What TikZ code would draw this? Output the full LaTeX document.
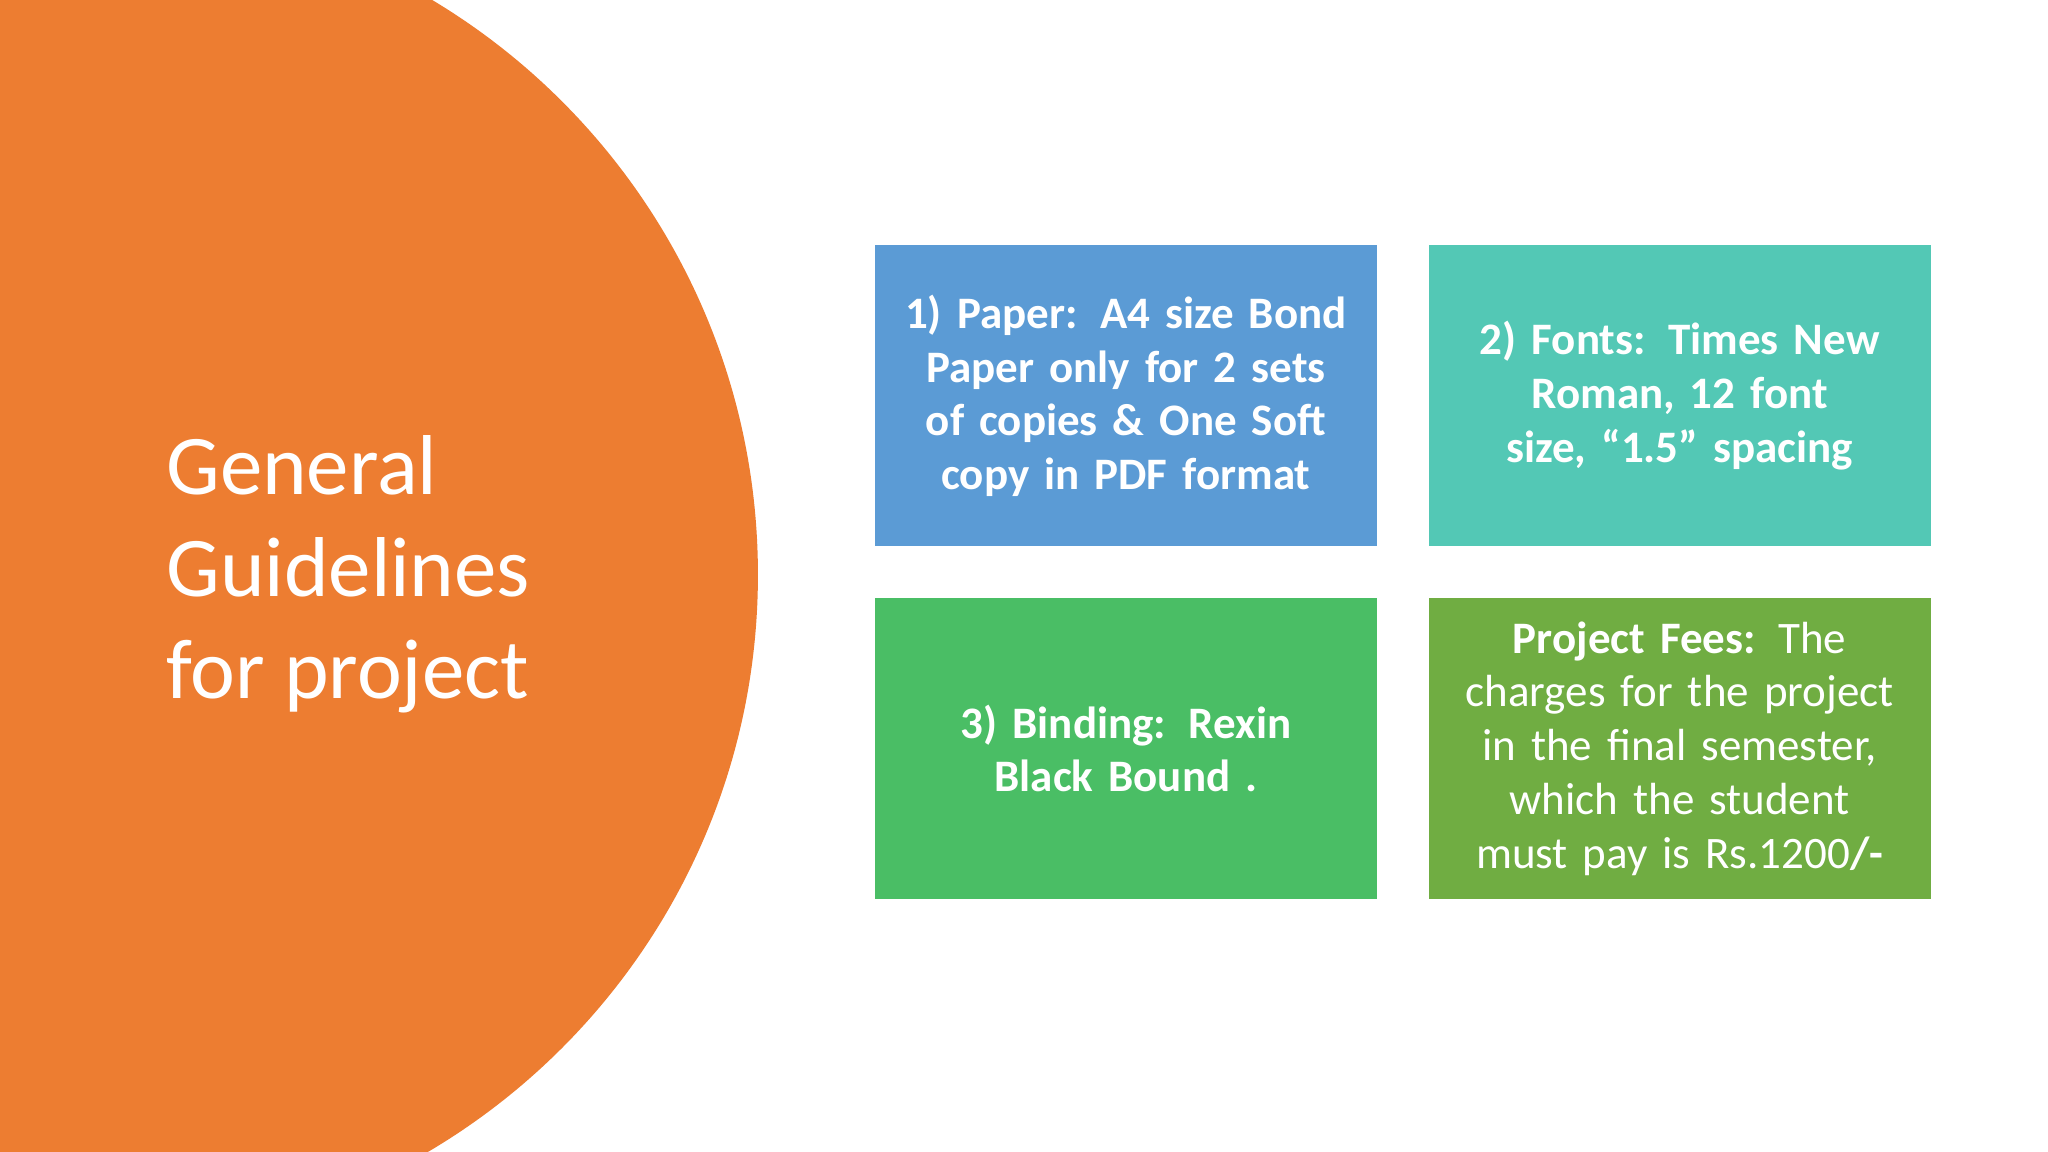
\documentclass[tikz,border=0pt]{standalone}
\usepackage{fontspec}
\setmainfont{Carlito}
\begin{document}
\begin{tikzpicture}[x=0.01cm,y=-0.01cm,
  box/.style={draw=none,minimum width=3.84cm,minimum height=2.30cm,text width=3.7cm,align=center,text=white,font=\fontsize{9.8}{11.7}\selectfont,inner sep=0pt},
]
\useasboundingbox (0,0) rectangle (1568,882);
\fill[white] (0,0) rectangle (1568,882);
\begin{scope}
\clip (0,0) rectangle (1568,882);
\fill[orange!20!red!0,fill={rgb,255:red,237;green,125;blue,49}] (67.6,440) circle[radius=5.124cm];
\end{scope}
\node[anchor=west,text=white,align=left,font=\fontsize{18.5}{22.2}\selectfont] (title) at (115,440) {General\\Guidelines\\for project};
\node[box,fill={rgb,255:red,91;green,155;blue,213}] (b1) at (862,303) {\bfseries 1) Paper: A4 size Bond Paper only for 2 sets of copies \& One Soft copy in PDF format};
\node[box,fill={rgb,255:red,83;green,200;blue,181}] (b2) at (1286,303) {\bfseries 2) Fonts: Times New Roman, 12 font size, “1.5” spacing};
\node[box,fill={rgb,255:red,74;green,190;blue,101}] (b3) at (862,573) {\bfseries 3) Binding: Rexin Black Bound .};
\node[box,fill={rgb,255:red,112;green,173;blue,66}] (b4) at (1286,573) {\textbf{Project Fees:} The charges for the project in the final semester, which the student must pay is Rs.1200\textbf{/-}};
\end{tikzpicture}
\end{document}
